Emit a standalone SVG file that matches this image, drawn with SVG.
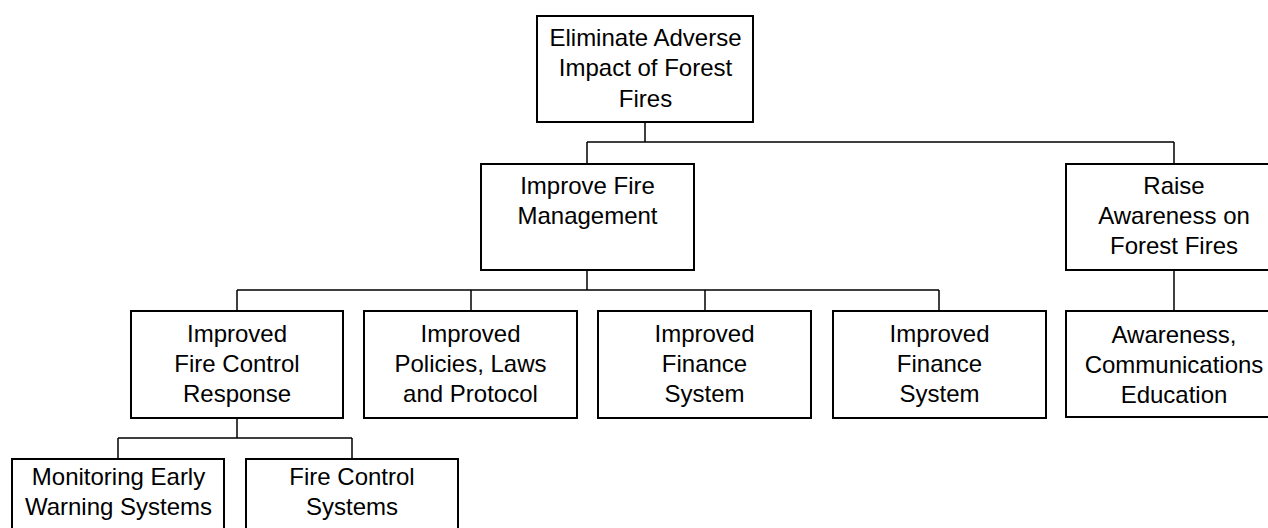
<svg xmlns="http://www.w3.org/2000/svg" width="1268" height="528" viewBox="0 0 1268 528">
<style>
.box{fill:#fff;stroke:#000;stroke-width:2}
.t{font-family:"Liberation Sans",Arial,sans-serif;font-size:24px;fill:#000;text-anchor:middle}
.c{fill:none;stroke:#000;stroke-width:1.5}
</style>
<rect width="1268" height="528" fill="#fff"/>
<g id="connectors">
<path class="c" d="M645 122V142M587 142H1174M587 142V164M1174 142V164"/>
<path class="c" d="M587 270V290M237 290H939M237 290V311M471 290V311M705 290V311M939 290V311"/>
<path class="c" d="M1174 270V311"/>
<path class="c" d="M237 418V438M118 438H352M118 438V459M352 438V459"/>
</g>
<g id="n-root">
<rect class="box" x="537" y="16" width="216" height="106"/>
<text class="t" x="645.5" y="46">Eliminate Adverse</text>
<text class="t" x="645.5" y="76">Impact of Forest</text>
<text class="t" x="645.5" y="106.5">Fires</text>
</g>
<g id="n-ifm">
<rect class="box" x="481" y="164" width="213" height="106"/>
<text class="t" x="587.5" y="194">Improve Fire</text>
<text class="t" x="587.5" y="223.5">Management</text>
</g>
<g id="n-raise">
<rect class="box" x="1066" y="164" width="216" height="106"/>
<text class="t" x="1174" y="194">Raise</text>
<text class="t" x="1174" y="223.5">Awareness on</text>
<text class="t" x="1174" y="253.5">Forest Fires</text>
</g>
<g id="n-ifcr">
<rect class="box" x="131" y="311" width="212" height="107"/>
<text class="t" x="237" y="342">Improved</text>
<text class="t" x="237" y="372">Fire Control</text>
<text class="t" x="237" y="402">Response</text>
</g>
<g id="n-policies">
<rect class="box" x="364" y="311" width="213" height="107"/>
<text class="t" x="470.5" y="342">Improved</text>
<text class="t" x="470.5" y="372">Policies, Laws</text>
<text class="t" x="470.5" y="402">and Protocol</text>
</g>
<g id="n-finance1">
<rect class="box" x="598" y="311" width="213" height="107"/>
<text class="t" x="704.5" y="342">Improved</text>
<text class="t" x="704.5" y="372">Finance</text>
<text class="t" x="704.5" y="402">System</text>
</g>
<g id="n-finance2">
<rect class="box" x="833" y="311" width="213" height="107"/>
<text class="t" x="939.5" y="342">Improved</text>
<text class="t" x="939.5" y="372">Finance</text>
<text class="t" x="939.5" y="402">System</text>
</g>
<g id="n-awareness">
<rect class="box" x="1066" y="311" width="216" height="106"/>
<text class="t" x="1174" y="343">Awareness,</text>
<text class="t" x="1174" y="373">Communications</text>
<text class="t" x="1174" y="403">Education</text>
</g>
<g id="n-monitoring">
<rect class="box" x="12" y="459" width="212" height="90"/>
<text class="t" x="118.5" y="485">Monitoring Early</text>
<text class="t" x="118.5" y="515">Warning Systems</text>
</g>
<g id="n-firecontrol">
<rect class="box" x="246" y="459" width="212" height="90"/>
<text class="t" x="352" y="485">Fire Control</text>
<text class="t" x="352" y="515">Systems</text>
</g>
</svg>
